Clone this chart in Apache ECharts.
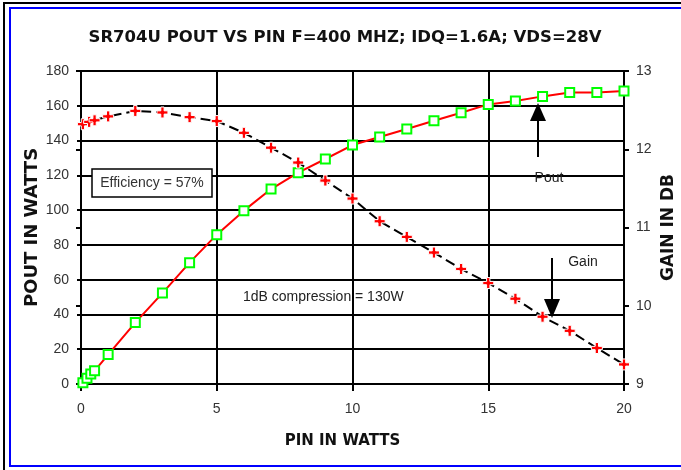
<!DOCTYPE html>
<html>
<head>
<meta charset="utf-8">
<script src="https://cdn.jsdelivr.net/npm/echarts@6/dist/echarts.min.js"></script>
<style>
html,body{margin:0;padding:0;background:#fff;}
#c{width:681px;height:470px;}
</style>
</head>
<body>
<div id="c"></div>
<script>
// ---- data ----
const titleText = 'SR704U POUT VS PIN F=400 MHZ; IDQ=1.6A; VDS=28V';
const pinPout = [0.07, 0.22, 0.36, 0.5, 1, 2, 3, 4, 5, 6, 7, 8, 9, 10, 11, 12, 13, 14, 15, 16, 17, 18, 19, 20];
const poutWatts = [0.7, 3.3, 5.8, 7.6, 16.9, 35.3, 52.3, 69.8, 85.9, 99.7, 112.1, 121.5, 129.4, 137.4, 142.0, 146.6, 151.4, 156.0, 160.8, 162.7, 165.4, 167.6, 167.6, 168.5];
const pinGain = [0.07, 0.3, 0.5, 1, 2, 3, 4, 5, 6, 7, 8, 9, 10, 11, 12, 13, 14, 15, 16, 17, 18, 19, 20];
const gainDb = [12.32, 12.35, 12.37, 12.42, 12.49, 12.47, 12.41, 12.36, 12.21, 12.02, 11.83, 11.60, 11.37, 11.08, 10.88, 10.68, 10.47, 10.29, 10.09, 9.86, 9.68, 9.46, 9.25];
const xTicks = [0, 5, 10, 15, 20];
const poutTicks = [0, 20, 40, 60, 80, 100, 120, 140, 160, 180];
const gainTicks = [9, 10, 11, 12, 13];
const annEfficiency = 'Efficiency = 57%';
const annCompression = '1dB compression = 130W';
const annPout = 'Pout';
const annGain = 'Gain';

const poutData = pinPout.map((x, i) => [x, poutWatts[i]]);
const gainData = pinGain.map((x, i) => [x, gainDb[i]]);

const chart = echarts.init(document.getElementById('c'), null, {renderer: 'canvas'});
const labelFont = {fontFamily: 'Liberation Sans', fontSize: 14, color: '#333'};
const plusPath = 'path://M3.5,0H6.5V3.5H10V6.5H6.5V10H3.5V6.5H0V3.5H3.5Z';

chart.setOption({
  animation: false,
  backgroundColor: '#fff',
  title: {
    text: titleText,
    left: 340, top: 24, textAlign: 'center',
    textStyle: {fontFamily: 'DejaVu Sans', fontWeight: 'bold', fontSize: 16.5, color: '#111', lineHeight: 18}
  },
  grid: {left: 81, right: 57, top: 71, bottom: 86, containLabel: false, outerBoundsMode: 'none'},
  xAxis: {
    type: 'value', min: xTicks[0], max: xTicks[xTicks.length - 1], interval: xTicks[1] - xTicks[0],
    name: 'PIN IN WATTS', nameLocation: 'middle', nameGap: 50, nameMoveOverlap: false,
    nameTextStyle: {fontFamily: 'DejaVu Sans', fontWeight: 'bold', fontSize: 15, color: '#111', padding: [0, 20, 0, 0]},
    axisLine: {show: true, onZero: false, lineStyle: {color: '#000', width: 2}},
    axisTick: {show: true, length: 7, lineStyle: {color: '#000', width: 2}},
    axisLabel: Object.assign({margin: 18}, labelFont),
    splitLine: {show: true, lineStyle: {color: '#000', width: 2}}
  },
  yAxis: [
    {
      type: 'value', position: 'left', min: poutTicks[0], max: poutTicks[poutTicks.length - 1], interval: poutTicks[1] - poutTicks[0],
      name: 'POUT IN WATTS', nameLocation: 'middle', nameGap: 40, nameRotate: 90, nameMoveOverlap: false,
      nameTextStyle: {fontFamily: 'DejaVu Sans', fontWeight: 'bold', fontSize: 18, color: '#111'},
      axisLine: {show: true, onZero: false, lineStyle: {color: '#000', width: 2}},
      axisTick: {show: true, length: 4, lineStyle: {color: '#000', width: 2}},
      axisLabel: Object.assign({margin: 12}, labelFont),
      splitLine: {show: true, lineStyle: {color: '#000', width: 2}}
    },
    {
      type: 'value', position: 'right', min: gainTicks[0], max: gainTicks[gainTicks.length - 1], interval: gainTicks[1] - gainTicks[0],
      name: 'GAIN IN DB', nameLocation: 'middle', nameGap: 36, nameRotate: 90, nameMoveOverlap: false,
      nameTextStyle: {fontFamily: 'DejaVu Sans', fontWeight: 'bold', fontSize: 17, color: '#111'},
      axisLine: {show: true, onZero: false, lineStyle: {color: '#000', width: 2}},
      axisTick: {show: true, length: 5, lineStyle: {color: '#000', width: 2}},
      axisLabel: Object.assign({margin: 12}, labelFont),
      splitLine: {show: false}
    },
    {
      type: 'value', position: 'right', min: gainTicks[0], max: gainTicks[gainTicks.length - 1], interval: gainTicks[1] - gainTicks[0],
      axisLine: {show: false},
      axisTick: {show: true, inside: true, length: 5, lineStyle: {color: '#000', width: 2}},
      axisLabel: {show: false},
      splitLine: {show: false}
    }
  ],
  series: [
    {
      name: 'Pout', type: 'line', xAxisIndex: 0, yAxisIndex: 0, data: poutData,
      lineStyle: {color: '#ff0000', width: 2},
      symbol: 'rect', symbolSize: 9,
      itemStyle: {color: '#ffffff', borderColor: '#00ff00', borderWidth: 2},
      z: 3
    },
    {
      name: 'Gain', type: 'line', xAxisIndex: 0, yAxisIndex: 1, data: gainData,
      lineStyle: {color: '#000', width: 2, type: [10, 5]},
      symbol: plusPath, symbolSize: 11, symbolKeepAspect: true,
      itemStyle: {color: '#ff0000', borderColor: '#ffffff', borderWidth: 1},
      z: 4
    }
  ],
  graphic: [
    // frames
    {type: 'line', shape: {x1: 4, y1: 2, x2: 4, y2: 470}, style: {stroke: '#000', lineWidth: 2}, silent: true},
    {type: 'line', shape: {x1: 3, y1: 3, x2: 681, y2: 3}, style: {stroke: '#000', lineWidth: 2}, silent: true},
    {type: 'rect', shape: {x: 10, y: 8, width: 700, height: 458}, style: {fill: 'none', stroke: '#0000ff', lineWidth: 2}, silent: true},
    // efficiency box
    {type: 'rect', shape: {x: 92, y: 169, width: 120, height: 28}, style: {fill: '#fff', stroke: '#000', lineWidth: 1.5}, z: 10},
    {type: 'text', x: 152, y: 183, style: {text: annEfficiency, fontFamily: 'Liberation Sans', fontSize: 14, fill: '#333', align: 'center', verticalAlign: 'middle'}, z: 11},
    // compression note
    {type: 'text', x: 243, y: 297, style: {text: annCompression, fontFamily: 'Liberation Sans', fontSize: 14, fill: '#222', align: 'left', verticalAlign: 'middle'}, z: 11},
    // pout arrow
    {type: 'text', x: 549, y: 178, style: {text: annPout, fontFamily: 'Liberation Sans', fontSize: 14, fill: '#222', align: 'center', verticalAlign: 'middle'}, z: 11},
    {type: 'line', shape: {x1: 538, y1: 157, x2: 538, y2: 118}, style: {stroke: '#000', lineWidth: 2}, z: 11},
    {type: 'polygon', shape: {points: [[538, 103], [530, 121], [546, 121]]}, style: {fill: '#000'}, z: 11},
    // gain arrow
    {type: 'text', x: 583, y: 262, style: {text: annGain, fontFamily: 'Liberation Sans', fontSize: 14, fill: '#222', align: 'center', verticalAlign: 'middle'}, z: 11},
    {type: 'line', shape: {x1: 552, y1: 258, x2: 552, y2: 302}, style: {stroke: '#000', lineWidth: 2}, z: 11},
    {type: 'polygon', shape: {points: [[552, 318], [544, 299], [560, 299]]}, style: {fill: '#000'}, z: 11}
  ]
});
</script>
</body>
</html>
